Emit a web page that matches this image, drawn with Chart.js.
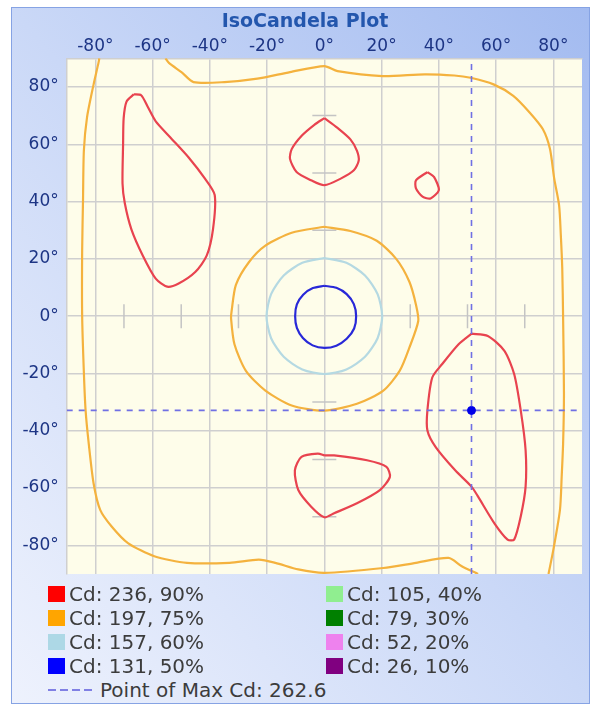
<!DOCTYPE html>
<html>
<head>
<meta charset="utf-8">
<title>IsoCandela Plot</title>
<script src="https://cdn.jsdelivr.net/npm/chart.js@4.4.1/dist/chart.umd.min.js"></script>
<style>
  body { margin: 0; background: #fff; width: 596px; height: 713px; position: relative; overflow: hidden; font-family: 'DejaVu Sans', sans-serif; }
  #panel { position: absolute; left: 11px; top: 7px; width: 579px; height: 697px; box-sizing: border-box;
           border: 1px solid #86a3e4;
           background: linear-gradient(to top right, #eef2fd 0%, #cad8f7 50%, #a3bbf0 100%); }
  #chart { position: absolute; left: 0; top: 0; }
  .item { position: absolute; height: 22px; display: flex; align-items: center; font-size: 20px; color: #3c3c3c; white-space: nowrap; }
  .sw { width: 17px; height: 16px; margin-right: 4px; }
  .dash { width: 47px; height: 2px; margin-right: 5px;
          background: repeating-linear-gradient(to right, #8080e4 0 8px, transparent 8px 12px); }
</style>
</head>
<body>
<div id="panel"></div>
<canvas id="chart" width="596" height="588"></canvas>
<div id="legend"></div>
<script>
// axis ticks (degrees)
const tickValues = [-80, -60, -40, -20, 0, 20, 40, 60, 80]

// legend levels
const cdValues = [236, 197, 157, 131, 105, 79, 52, 26]
const cdPercents = [90, 75, 60, 50, 40, 30, 20, 10]
const levelColors = ['#ff0000', '#ffa500', '#add8e6', '#0000ff', '#90ee90', '#008000', '#ee82ee', '#800080']

// max candela
const maxCd = 262.6
const maxPoint = [51.4, -32.9]

// small gray marks on the center axes
const marksOnX = [-70, -50, -30, 30, 50, 70]
const marksOnY = [-70, -50, -30, 30, 50, 70]

// contours, [h deg, v deg]
const red90NW = [[-66.6,77.4],[-69.1,74.9],[-70.1,69.1],[-70.3,60],[-70.5,46.3],[-69.7,39.4],[-67.4,30.3],[-63.4,21.1],
  [-58.9,13.1],[-54.9,10.3],[-50.9,11.4],[-45.1,15.4],[-41.1,21.1],[-38.9,30.3],[-38.3,42.3],[-41.7,48],[-47.4,55.4],
  [-53.7,62.3],[-58.9,68],[-61.7,73.1],[-64,77.1],[-66.6,77.4]]
const red90N = [[0,69.1],[4.6,65.7],[9.1,61.7],[11.4,57.7],[12,54.3],[10.3,50.9],[5.7,48],[0,45.7],[-4.6,47.4],
  [-9.7,50.3],[-12,54.9],[-11.4,58.3],[-8,62.9],[-3.5,66.8],[0,69.1]]
const red90Small = [[36,50.3],[38.3,48.6],[40,44],[37.1,41.1],[34.3,41.7],[32,44.6],[32,47.4],[36,50.3]]
const red90SE = [[51.4,-6.1],[57.1,-6.9],[62.9,-12.1],[66.3,-20.2],[68.6,-32.9],[70.3,-46.8],[70.3,-59.5],[68.6,-69.9],
  [66.3,-78],[64,-78],[59.4,-72.3],[53.7,-63],[51.4,-59.5],[45.7,-53.8],[38.9,-45.7],[36,-39.9],[36,-32.9],[37.7,-21.4],
  [41.1,-16.8],[46.9,-9.8],[51.4,-6.1]]
const red90S = [[0,-48.6],[3.4,-48.6],[14.9,-50.3],[21.7,-52.6],[22.9,-56.1],[19.4,-60.7],[11.4,-65.3],[3.4,-68.8],
  [0,-70.2],[-4.6,-66.5],[-9.1,-60.7],[-10.3,-53.8],[-8,-49.1],[-2.3,-48],[0,-48.6]]
const orange75Inner = [[0,31.2],[9.1,29.7],[18.3,26.3],[25.1,20],[29.7,12],[32,4],[32.8,-1.7],[29.7,-11],[26.3,-19.1],
  [20.6,-26],[11.4,-30.6],[0,-33],[-11.4,-31.2],[-20.6,-26],[-27.4,-19.1],[-31.4,-9.8],[-32.6,-0.6],[-32.4,1.7],
  [-30.9,10.9],[-26.3,18.9],[-20.6,24.6],[-11.4,29.1],[0,31.2]]
const orange75OuterA = [[-55.5,90],[-54.3,88.4],[-49.7,85],[-45.7,81.7],[-34.9,81.7],[-23.4,82.9],[-12,85.2],[0,87.3],
  [4.6,85.5],[20.3,83.8],[35.1,84.4],[45.4,84],[51.1,83.2],[59.1,80.9],[66,76.9],[71.7,71.1],[76.3,65.3],[78.8,58.4],
  [80.3,48],[82,38.7],[82.6,28.3],[83.1,16.8],[83.4,-0.6],[83.7,-27.2],[83.4,-44.5],[82.9,-56.1],[82.3,-67.6],
  [80,-81.5],[78.3,-90]]
const orange75OuterB = [[53.7,-90],[48,-87.3],[43.4,-84.4],[32,-86.1],[20.6,-87.9],[0,-89.6],[-9.1,-88.4],[-17.1,-86.1],
  [-22.9,-85],[-33.1,-86.1],[-48,-86.1],[-59.4,-83.8],[-68.6,-79.2],[-74.3,-73.4],[-78.3,-67.6],[-80.6,-58.4],
  [-82.3,-44.5],[-83.4,-32.9],[-84,-19.7],[-84.6,0],[-84.6,23.1],[-84.3,40.5],[-84,57.8],[-82.9,69.4],[-80.6,80.9],
  [-78.9,88.4],[-78.6,90]]
const lightBlue60 = [[0,20.3],[7.7,18.6],[14.2,14.2],[18.6,7.7],[20.2,0],[18.6,-7.7],[14.2,-14.2],[7.7,-18.6],[0,-20.2],
  [-7.7,-18.6],[-14.2,-14.2],[-18.6,-7.7],[-20.2,0],[-18.6,7.7],[-14.2,14.2],[-7.7,18.6],[0,20.3]]
const blue50 = [[0,10.6],[4.2,9.9],[7.8,7.7],[10.3,4.2],[11.1,0],[10.4,-4.3],[7.8,-7.9],[4.2,-10.3],[0,-11.1],
  [-4.1,-10.2],[-7.5,-7.6],[-9.6,-4.1],[-10.2,0],[-9.6,4.1],[-7.4,7.5],[-4,9.8],[0,10.6]]

const lineRed = '#e8434f'
const lineOrange = '#f4b23e'
const lineLightBlue = '#b5d9e2'
const lineBlue = '#2828d8'
const dashColor = '#7070e4'
const gridColor = '#cfcfcf'

// where the plot box sits in the picture
const target = { left: 66.7, top: 58.3, right: 582, bottom: 574 }
const canvasH = 588
let yAxisWidth = target.left
let xAxisHeight = 24.5

function pts(arr) {
  return arr.map(p => ({ x: p[0], y: p[1] }))
}

function contour(arr, color) {
  return {
    data: pts(arr),
    showLine: true,
    borderColor: color,
    borderWidth: 2.2,
    pointRadius: 0,
    tension: 0.25,
    clip: 0,
    order: 5
  }
}

const plotBackground = {
  id: 'plotBackground',
  beforeDraw(chart) {
    const a = chart.chartArea
    const ctx = chart.ctx
    ctx.save()
    ctx.fillStyle = '#fefdea'
    ctx.fillRect(a.left, a.top, a.right - a.left, a.bottom - a.top)
    ctx.restore()
  }
}

// title sits a bit left of the plot centre, so draw it here
const titleText = {
  id: 'titleText',
  afterDraw(chart) {
    const ctx = chart.ctx
    ctx.save()
    ctx.font = "bold 19px 'DejaVu Sans', sans-serif"
    ctx.fillStyle = '#2356ad'
    ctx.textAlign = 'center'
    ctx.textBaseline = 'middle'
    ctx.fillText('IsoCandela Plot', 305, 22)
    ctx.restore()
  }
}

Chart.defaults.font.family = "'DejaVu Sans', sans-serif"

const datasets = [
  {
    data: marksOnX.map(v => ({ x: v, y: 0 })),
    pointStyle: 'line',
    rotation: 90,
    pointRadius: 12,
    borderColor: '#c4c4c4',
    borderWidth: 1.5,
    order: 10
  },
  {
    data: marksOnY.map(v => ({ x: 0, y: v })),
    pointStyle: 'line',
    rotation: 0,
    pointRadius: 12,
    borderColor: '#c4c4c4',
    borderWidth: 1.5,
    order: 10
  },
  contour(red90NW, lineRed),
  contour(red90N, lineRed),
  contour(red90Small, lineRed),
  contour(red90SE, lineRed),
  contour(red90S, lineRed),
  contour(orange75Inner, lineOrange),
  contour(orange75OuterA, lineOrange),
  contour(orange75OuterB, lineOrange),
  contour(lightBlue60, lineLightBlue),
  contour(blue50, lineBlue),
  {
    data: [{ x: maxPoint[0], y: -90 }, { x: maxPoint[0], y: 90 }],
    showLine: true, borderColor: dashColor, borderWidth: 1.6, borderDash: [6, 6],
    pointRadius: 0, clip: 0, order: 2
  },
  {
    data: [{ x: -90, y: maxPoint[1] }, { x: 90, y: maxPoint[1] }],
    showLine: true, borderColor: dashColor, borderWidth: 1.6, borderDash: [6, 6],
    pointRadius: 0, clip: 0, order: 2
  },
  {
    data: [{ x: maxPoint[0], y: maxPoint[1] }],
    pointRadius: 4, backgroundColor: '#0000e8', borderColor: '#0000e8', order: 1
  }
]

const degTick = v => v + '°'

const chart = new Chart(document.getElementById('chart'), {
  type: 'scatter',
  data: { datasets: datasets },
  options: {
    responsive: false,
    animation: false,
    events: [],
    layout: { padding: { left: 0, right: 596 - target.right, top: 33.8, bottom: canvasH - target.bottom } },
    plugins: {
      legend: { display: false },
      tooltip: { enabled: false },
      title: { display: false }
    },
    scales: {
      x: {
        type: 'linear',
        position: 'top',
        min: -90,
        max: 90,
        afterBuildTicks: s => { s.ticks = tickValues.map(v => ({ value: v })) },
        afterFit: s => { s.height = xAxisHeight; s.paddingLeft = 0; s.paddingRight = 0 },
        ticks: { callback: degTick, color: '#1d3585', font: { size: 17 }, padding: 2, maxRotation: 0, autoSkip: false },
        grid: { color: gridColor, lineWidth: 1.5, drawTicks: false },
        border: { color: gridColor, width: 1.5 }
      },
      y: {
        type: 'linear',
        position: 'left',
        min: -90,
        max: 90,
        afterBuildTicks: s => { s.ticks = tickValues.map(v => ({ value: v })) },
        afterFit: s => { s.width = yAxisWidth; s.paddingTop = 0; s.paddingBottom = 0 },
        ticks: { callback: degTick, color: '#1d3585', font: { size: 17 }, padding: 8, autoSkip: false },
        grid: { color: gridColor, lineWidth: 1.5, drawTicks: false },
        border: { color: gridColor, width: 1.5 }
      }
    }
  },
  plugins: [plotBackground, titleText]
})

// nudge once so the plot box lands on the target
const a0 = chart.chartArea
yAxisWidth += target.left - a0.left
xAxisHeight += target.top - a0.top
chart.options.layout.padding.right += a0.right - target.right
chart.update()

// legend, two columns of four plus the max line
const legend = document.getElementById('legend')
cdValues.forEach((cd, i) => {
  const col = Math.floor(i / 4)
  const row = i % 4
  const el = document.createElement('div')
  el.className = 'item'
  el.style.left = (col === 0 ? 48 : 326) + 'px'
  el.style.top = (583 + row * 24) + 'px'
  el.innerHTML = '<span class="sw" style="background:' + levelColors[i] + '"></span>Cd: ' + cd + ', ' + cdPercents[i] + '%'
  legend.appendChild(el)
})
const maxEl = document.createElement('div')
maxEl.className = 'item'
maxEl.style.left = '48px'
maxEl.style.top = '679px'
maxEl.innerHTML = '<span class="dash"></span>Point of Max Cd: ' + maxCd
legend.appendChild(maxEl)
</script>
</body>
</html>
